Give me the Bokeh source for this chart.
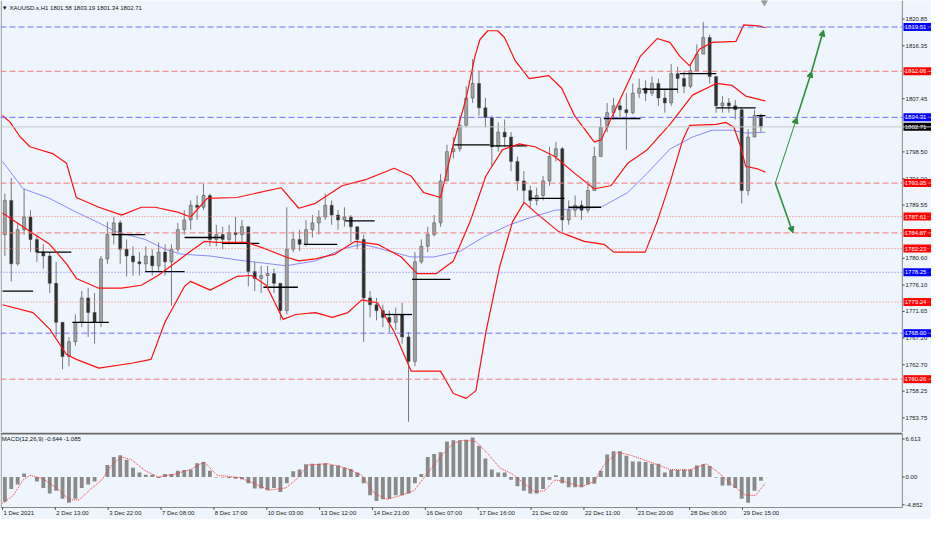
from bokeh.plotting import figure
from bokeh.models import Span, Arrow, NormalHead, Range1d, ColumnDataSource
from bokeh.layouts import column
from bokeh.embed import file_html
from bokeh.resources import INLINE
from bokeh.core.properties import value

FONT = "Liberation Sans"
BG = "#eef5fc"

# ---------------- data (XAUUSD H1, 4-hour groups) ----------------
first_open = 1784.59
close = [1790.34, 1779.67, 1785.41, 1787.55, 1783.77, 1781.64, 1780.98, 1776.39, 1769.83, 1764.08,
         1766.55, 1769.83, 1773.93, 1771.47, 1769.83, 1780.49, 1784.59, 1786.56, 1782.13, 1780.98,
         1780.00, 1779.67, 1780.98, 1779.34, 1781.64, 1780.00, 1782.13, 1785.41, 1787.05, 1789.52,
         1789.19, 1791.16, 1783.77, 1784.59, 1783.77, 1784.92, 1784.59, 1785.91, 1778.36, 1777.21,
         1777.70, 1778.03, 1776.39, 1771.80, 1782.13, 1783.77, 1782.95, 1785.41, 1786.56, 1787.55,
         1789.52, 1787.87, 1787.05, 1787.55, 1785.91, 1783.77, 1773.93, 1772.78, 1771.80, 1770.65,
         1769.83, 1771.14, 1767.37, 1763.26, 1780.00, 1782.62, 1784.59, 1786.56, 1793.62, 1798.54,
         1799.03, 1802.97, 1807.56, 1810.02, 1805.92, 1804.28, 1799.36, 1801.82, 1801.00, 1796.90,
         1793.62, 1791.99, 1790.34, 1791.16, 1793.62, 1797.72, 1799.03, 1787.05, 1788.69, 1789.52,
         1788.69, 1791.99, 1797.72, 1802.64, 1805.10, 1806.25, 1805.59, 1805.10, 1808.38, 1809.20,
         1808.38, 1810.02, 1807.56, 1806.74, 1811.66, 1810.84, 1809.53, 1812.16, 1814.95, 1817.74,
         1811.17, 1806.25, 1806.74, 1806.25, 1805.59, 1791.99, 1801.00, 1804.61, 1802.71]
high = [1791.48, 1794.11, 1786.56, 1792.30, 1788.69, 1784.59, 1782.95, 1781.64, 1780.00, 1769.83,
        1767.37, 1771.14, 1775.08, 1775.57, 1774.75, 1780.98, 1786.73, 1787.55, 1787.00, 1783.77,
        1782.62, 1781.64, 1782.62, 1782.13, 1783.28, 1782.95, 1782.95, 1786.56, 1788.69, 1790.34,
        1791.16, 1793.12, 1791.48, 1786.23, 1785.91, 1786.23, 1787.55, 1787.05, 1785.91, 1780.00,
        1779.34, 1779.34, 1778.85, 1776.39, 1789.19, 1785.09, 1785.41, 1787.05, 1787.87, 1788.69,
        1791.48, 1790.34, 1788.69, 1789.19, 1787.87, 1785.91, 1784.59, 1775.08, 1773.93, 1772.78,
        1771.80, 1772.29, 1773.11, 1768.19, 1781.64, 1783.77, 1785.91, 1787.87, 1794.77, 1799.69,
        1801.00, 1804.61, 1809.53, 1814.13, 1812.16, 1807.56, 1804.61, 1803.46, 1803.95, 1801.82,
        1797.72, 1795.26, 1792.80, 1792.47, 1794.44, 1799.36, 1800.18, 1799.36, 1790.34, 1791.16,
        1790.34, 1793.62, 1799.36, 1804.28, 1806.74, 1807.56, 1807.23, 1808.38, 1810.02, 1810.84,
        1810.52, 1811.17, 1810.84, 1808.88, 1813.31, 1812.81, 1812.16, 1813.31, 1816.59, 1820.36,
        1818.23, 1811.17, 1807.89, 1807.56, 1807.23, 1805.92, 1802.31, 1805.59, 1804.94]
low = [1780.98, 1776.72, 1779.34, 1784.59, 1781.64, 1780.00, 1778.85, 1774.75, 1767.37, 1761.95,
       1762.44, 1765.90, 1769.01, 1767.37, 1766.22, 1769.01, 1779.67, 1782.95, 1779.67, 1777.54,
       1777.70, 1777.70, 1778.36, 1777.70, 1778.36, 1777.70, 1772.62, 1781.64, 1784.59, 1785.41,
       1787.05, 1788.69, 1782.62, 1782.62, 1782.13, 1782.95, 1782.95, 1783.28, 1775.90, 1775.08,
       1774.75, 1775.90, 1774.75, 1770.16, 1771.14, 1781.64, 1781.80, 1782.62, 1784.10, 1784.59,
       1787.05, 1786.23, 1785.41, 1785.91, 1783.28, 1782.13, 1766.55, 1770.65, 1770.16, 1769.01,
       1768.19, 1768.51, 1766.22, 1753.09, 1762.44, 1779.67, 1781.64, 1784.27, 1785.91, 1793.62,
       1797.39, 1798.54, 1802.64, 1806.74, 1804.61, 1802.64, 1796.08, 1798.54, 1799.36, 1795.26,
       1791.99, 1790.01, 1789.19, 1789.52, 1790.34, 1792.80, 1796.90, 1785.09, 1786.23, 1787.55,
       1787.05, 1788.20, 1792.80, 1797.72, 1801.82, 1803.95, 1804.28, 1798.87, 1804.80, 1807.56,
       1807.07, 1807.89, 1806.25, 1805.10, 1806.25, 1808.38, 1808.38, 1809.20, 1812.16, 1815.44,
       1810.02, 1805.10, 1805.10, 1805.10, 1803.95, 1789.84, 1791.16, 1802.64, 1801.82]

# MACD histogram per candle group, and signal line
macd = [-4.3, -2.1, -1.3, 0.6, 0.0, -0.8, -1.9, -2.9, -2.4, -3.8,
        -4.5, -3.8, -1.9, -1.3, -0.8, 0.0, 2.1, 3.5, 3.8, 3.0,
        1.6, 0.8, 0.4, 0.4, -0.2, 0.5, 0.5, 1.1, 1.2, 1.3,
        2.4, 2.6, 1.1, -0.1, -0.1, -0.2, -0.3, -0.4, -1.1, -2.0,
        -2.0, -2.3, -1.9, -2.6, -1.1, 1.0, 1.3, 2.2, 2.3, 2.3,
        2.4, 2.1, 2.0, 1.6, 1.4, 0.8, -1.1, -3.2, -4.2, -3.9,
        -3.8, -3.2, -3.2, -2.9, -1.1, 0.5, 3.5, 4.0, 4.3, 6.2,
        6.4, 6.4, 6.5, 6.9, 5.4, 3.2, 1.3, 0.8, 0.8, -0.5,
        -1.6, -2.4, -2.9, -2.9, -2.1, -0.5, 0.3, -1.1, -1.8, -1.8,
        -1.8, -1.3, -1.2, 1.1, 3.9, 4.5, 4.5, 3.7, 2.7, 2.7,
        2.6, 2.3, 2.3, 0.8, 1.2, 1.2, 1.3, 1.3, 2.0, 2.2,
        1.9, -0.1, -1.5, -1.5, -1.9, -3.8, -4.5, -2.4, -0.65]
sig_x = [0, 6.8, 12.9, 17.2, 25.2, 33.8, 41.8, 47.9, 55.9, 62.1, 68.2, 74.4, 80.5, 89.1, 97.1,
         107.6, 117.4, 126.0, 134.0, 148.1, 158.6, 166.6, 177.0, 183.1, 191.1, 203.4, 213.9,
         224.3, 232.3, 240.3, 248.9, 256.9, 264.9, 273.5, 281.5, 287.6, 295.6, 304.2, 310.4,
         318.4, 326.4, 332.5, 338.6, 344.8, 350.9, 361.4, 369.4, 375.5, 384.1, 392.1, 404.4,
         416.7, 429.0, 439.4, 445.6, 455.4, 464.0, 470.2, 476.3]
sig_y = [-4.6, -3.2, -0.5, 0.3, -0.3, -1.9, -4.0, -4.0, -1.9, -0.5, 2.1, 3.5, 3.0, 1.1, 0.0,
         0.5, 1.3, 2.6, 0.3, -0.1, -1.3, -2.3, -1.9, -0.5, 2.1, 2.3, 1.6,
         0.3, -2.9, -3.9, -3.2, -2.4, 0.5, 3.5, 5.9, 6.4, 6.2, 3.7, 1.6,
         0.5, -1.3, -2.6, -2.4, -0.5, -0.8, -1.7, -0.8, 2.1, 4.3, 3.8, 2.6,
         1.3, 1.2, 2.3, 1.1, -1.3, -3.2, -3.2, -1.085]

# Bollinger bands and moving average (bar index, price)
bb_up_x = [0, 4.9, 11.1, 17.2, 31.3, 40.0, 46.1, 60.2, 74.4, 86.7, 95.3, 109.4, 117.4, 127.8, 146.3,
           173.9, 185.0, 195.4, 212.0, 226.2, 244.6, 255.1, 263.0, 273.5, 281.5, 289.5, 295.0,
           298.1, 303.0, 309.1, 313.4, 320.2, 328.8, 341.1, 349.1, 357.1, 369.4, 373.7, 386.0,
           398.3, 408.7, 416.7, 422.8, 429.0, 435.1, 443.1, 457.9, 462.8, 472.0, 476.3]
bb_up_y = [1804.61, 1803.46, 1801.00, 1799.36, 1798.21, 1796.57, 1790.83, 1789.19, 1787.87, 1789.19,
           1789.19, 1788.37, 1787.55, 1790.67, 1790.83, 1792.47, 1789.02, 1789.84, 1792.80, 1793.78,
           1795.75, 1794.44, 1791.65, 1790.83, 1799.85, 1807.56, 1814.62, 1817.41, 1818.88, 1818.88,
           1817.74, 1813.80, 1810.84, 1811.34, 1809.20, 1804.61, 1800.18, 1800.51, 1807.56, 1814.62,
           1817.57, 1816.92, 1814.62, 1812.98, 1815.77, 1816.92, 1817.08, 1819.87, 1819.70, 1819.38]
bb_mid_x = [0, 17.2, 29.5, 40.0, 46.1, 60.2, 74.4, 86.7, 97.1, 109.4, 117.4, 126.0, 134.0, 152.4,
            164.7, 177.0, 185.0, 195.4, 207.7, 220.0, 234.2, 249.0, 258.8, 271.0, 281.5, 291.9,
            301.8, 312.2, 322.7, 332.5, 344.8, 357.1, 369.4, 379.8, 390.3, 402.6, 416.7, 430.8,
            445.6, 455.4, 464.0, 476.3]
bb_mid_y = [1788.20, 1785.09, 1782.95, 1779.67, 1777.21, 1775.57, 1775.57, 1776.06, 1777.70, 1780.16,
            1781.80, 1783.44, 1783.28, 1783.28, 1782.13, 1780.82, 1780.16, 1780.49, 1781.31, 1783.44,
            1782.95, 1780.82, 1778.03, 1778.03, 1780.16, 1786.73, 1794.44, 1798.87, 1799.85, 1799.36,
            1797.72, 1794.93, 1792.30, 1792.80, 1796.57, 1798.87, 1803.13, 1808.05, 1810.02, 1809.70,
            1807.89, 1807.07]
bb_lo_x = [0, 19.1, 29.5, 40.0, 46.1, 60.2, 80.5, 92.8, 101.4, 113.7, 117.4, 129.7, 146.3, 155.5,
           164.7, 175.2, 183.1, 195.4, 205.9, 215.7, 224.3, 234.2, 244.6, 255.1, 273.5, 281.5,
           289.5, 295.6, 301.8, 310.4, 318.4, 325.7, 332.5, 347.2, 363.2, 375.5, 381.7, 401.3,
           408.7, 416.7, 424.7, 429.0, 445.6, 451.7, 456.6, 460.9, 464.0, 472.0, 476.3]
bb_lo_y = [1772.78, 1771.47, 1768.68, 1764.41, 1763.59, 1762.12, 1762.94, 1763.59, 1769.83, 1775.90,
           1776.72, 1775.24, 1777.54, 1777.70, 1776.06, 1770.32, 1771.14, 1771.47, 1770.65, 1771.47,
           1773.60, 1773.11, 1768.19, 1761.62, 1761.62, 1757.85, 1757.03, 1758.34, 1768.19, 1779.18,
           1786.73, 1790.01, 1788.37, 1785.09, 1783.44, 1782.95, 1781.64, 1781.64, 1786.73, 1793.29,
           1800.51, 1802.97, 1803.13, 1803.46, 1802.64, 1799.36, 1796.08, 1795.59, 1795.09]
ma_x = [0, 12.9, 29.5, 43.6, 60.2, 70.7, 89.1, 101.4, 111.2, 129.7, 146.3, 177.0, 195.4, 212.0,
        224.3, 232.3, 255.1, 269.2, 285.8, 299.9, 316.5, 328.8, 344.8, 361.4, 373.7, 390.3,
        402.6, 416.7, 430.8, 443.1, 455.4, 464.0, 476.3]
ma_y = [1796.90, 1792.30, 1790.67, 1788.69, 1786.56, 1785.09, 1783.77, 1782.13, 1781.31, 1780.98,
        1780.33, 1779.34, 1780.16, 1782.13, 1782.95, 1782.46, 1780.82, 1780.82, 1781.80, 1784.10,
        1786.23, 1787.38, 1788.69, 1789.02, 1789.19, 1791.65, 1794.93, 1798.98, 1801.00, 1802.15,
        1802.15, 1801.66, 1801.82]

# daily reference segments (black)
seg_x0 = [0, 21.5, 43.6, 68.2, 89.1, 113.7, 137.0, 162.9, 188.1, 213.9, 238.5, 255.7, 281.5,
          304.8, 328.8, 353.4, 375.5, 399.5, 422.8, 445.6, 470.8]
seg_x1 = [19.1, 43.0, 66.4, 89.1, 113.7, 137.0, 160.4, 184.4, 209.0, 232.3, 255.7, 279.6, 304.2,
          327.6, 350.9, 373.7, 398.3, 421.6, 445.6, 470.2, 476.3]
seg_p = [1775.08, 1781.64, 1769.83, 1784.59, 1778.36, 1784.10, 1783.12, 1775.73, 1782.95, 1786.89,
         1771.14, 1777.05, 1799.69, 1799.52, 1790.67, 1789.19, 1804.12, 1809.04, 1811.66, 1805.92,
         1804.61]

# horizontal levels
levels = [1819.51, 1812.06, 1804.31, 1793.25, 1787.61, 1784.87, 1782.23, 1778.25, 1773.24, 1768.00, 1760.26]
level_kind = ["blue", "red", "blue", "red", "red", "red", "red", "blue", "red", "blue", "red"]
level_style = ["dash", "dash", "dash", "dash", "dot", "dash", "dot", "dot", "dot", "dash", "dash"]
last_price = 1802.71

# projected path (green arrows)
arrow_up_x = [482.5, 496.0, 505.2, 512.6]
arrow_up_y = [1793.25, 1804.31, 1812.06, 1819.0]
arrow_dn_x = [482.5, 493.5]
arrow_dn_y = [1793.25, 1784.87]

price_ticks = [1820.85, 1816.35, 1807.45, 1798.50, 1794.00, 1789.55, 1780.60, 1776.10,
               1771.65, 1767.20, 1762.70, 1758.25, 1753.75]
macd_ticks = [6.613, 0.0, -4.852]
macd_tick_labels = ["6.613", "0.00", "-4.852"]
time_ticks = [0, 33, 66, 99, 132, 165, 198, 231, 264, 297, 330, 363, 396, 429, 462]
time_labels = ["1 Dec 2021", "2 Dec 13:00", "3 Dec 22:00", "7 Dec 08:00", "8 Dec 17:00",
               "10 Dec 03:00", "13 Dec 12:00", "14 Dec 21:00", "16 Dec 07:00", "17 Dec 16:00",
               "21 Dec 02:00", "22 Dec 11:00", "23 Dec 20:00", "28 Dec 06:00", "29 Dec 15:00"]

# ---------------- layout constants ----------------
X0, XEND = -1.23, 580.0      # bar-index range of the whole canvas width
AX = 561.8                   # bar index where the price scale starts
Y0, Y1 = 1751.29, 1823.97    # price range of the main panel
M0, M1 = -5.32, 7.58         # MACD panel value range
MB, MT = -7.41, 7.75         # MACD figure range (incl. time-label row)

FS = value("6px")
TXT = "#222222"
AXC = "#8a8a8a"

opens = [first_open] + close[:-1]
bar = [4 * k + 1.5 for k in range(len(close))]
src = ColumnDataSource(dict(
    x=bar, h=high, l=low,
    top=[max(o, c) for o, c in zip(opens, close)],
    bot=[min(o, c) for o, c in zip(opens, close)],
    fill=["#a2a2a2" if c >= o else "#2e2e2e" for o, c in zip(opens, close)],
))

COL = {"blue": "#7070f4", "red": "#f47a7a"}
TAG = {"blue": "#0000ff", "red": "#ff0000"}
DASH = {"dash": "6 3", "dot": "1 2"}

# ---------------- main price panel ----------------
p1 = figure(width=931, height=432, x_range=Range1d(X0, XEND), y_range=Range1d(Y0, Y1),
            output_backend="svg", toolbar_location=None,
            x_axis_location=None, y_axis_location=None, min_border=0,
            background_fill_color=BG, border_fill_color=BG, outline_line_color=None)
p1.grid.visible = False

for lv, kind, st in zip(levels, level_kind, level_style):
    p1.add_layout(Span(location=lv, dimension="width", line_color=COL[kind],
                       line_dash=DASH[st], line_width=1))
p1.add_layout(Span(location=last_price, dimension="width", line_color="#c4c8cc", line_width=1))

p1.line(ma_x, ma_y, line_color="#8a8aff", line_width=1)
p1.segment(x0="x", y0="h", x1="x", y1="l", source=src, line_color="#7a7a7a", line_width=1)
p1.vbar(x="x", top="top", bottom="bot", width=1.9, fill_color="fill",
        line_color="#4a4a4a", line_width=0.5, source=src)
p1.segment(x0=seg_x0, y0=seg_p, x1=seg_x1, y1=seg_p, line_color="#000000", line_width=1.3)
for xs, ys in ((bb_up_x, bb_up_y), (bb_mid_x, bb_mid_y), (bb_lo_x, bb_lo_y)):
    p1.line(xs, ys, line_color="#ff1010", line_width=1.2)

GREEN = "#2f8f3a"
for i in range(len(arrow_up_x) - 1):
    p1.add_layout(Arrow(end=NormalHead(size=6, fill_color=GREEN, line_color=GREEN),
                        x_start=arrow_up_x[i], y_start=arrow_up_y[i],
                        x_end=arrow_up_x[i + 1], y_end=arrow_up_y[i + 1],
                        line_color=GREEN, line_width=1.0 if i == 0 else 1.6))
p1.add_layout(Arrow(end=NormalHead(size=6, fill_color=GREEN, line_color=GREEN),
                    x_start=arrow_dn_x[0], y_start=arrow_dn_y[0],
                    x_end=arrow_dn_x[1], y_end=arrow_dn_y[1],
                    line_color=GREEN, line_width=1.6))

p1.scatter([475.7], [Y1 - 0.3], marker="inverted_triangle", size=6, color="#9a9a9a")
p1.text(x=[-0.4], y=[Y1 - 0.75], text=["▼ XAUUSD.s,H1  1801.58 1803.19 1801.34 1802.71"],
        text_font=value(FONT), text_font_size=FS, text_color="#111111",
        text_baseline="top", text_align="left")

# price scale (right)
p1.quad(left=AX, right=XEND, bottom=Y0, top=Y1, fill_color=BG, line_color=None)
p1.segment(x0=AX, y0=Y0, x1=AX, y1=Y1, line_color=AXC, line_width=1)
p1.segment(x0=X0 + 0.4, y0=Y0, x1=X0 + 0.4, y1=Y1, line_color=AXC, line_width=1)
p1.segment(x0=AX, y0=price_ticks, x1=AX + 1.4, y1=price_ticks, line_color="#444444")
p1.text(x=AX + 2.0, y=price_ticks, text=[f"{v:.2f}" for v in price_ticks],
        text_font=value(FONT), text_font_size=FS, text_color=TXT,
        text_baseline="middle", text_align="left")
tag_prices = levels + [last_price]
tag_fill = [TAG[k] for k in level_kind] + ["#000000"]
p1.rect(x=(AX + 0.7 + XEND) / 2, y=tag_prices, width=XEND - AX - 0.7, height=8,
        height_units="screen", fill_color=tag_fill, line_color=None)
p1.text(x=AX + 1.5, y=tag_prices, text=[f"{v:.2f}" for v in tag_prices],
        text_font=value(FONT), text_font_size=FS, text_color="white",
        text_baseline="middle", text_align="left")

# ---------------- MACD panel ----------------
p2 = figure(width=931, height=87, x_range=p1.x_range, y_range=Range1d(MB, MT),
            output_backend="svg", toolbar_location=None,
            x_axis_location=None, y_axis_location=None, min_border=0,
            background_fill_color=BG, border_fill_color=BG, outline_line_color=None)
p2.grid.visible = False

p2.vbar(x=bar, top=macd, bottom=0, width=2.4, fill_color="#8a8a8a", line_color=None)
p2.line(sig_x, sig_y, line_color="#ff3030", line_dash="1 1", line_width=1)
p2.text(x=[-0.4], y=[M1 - 0.5], text=["MACD(12,26,9) -0.644 -1.085"],
        text_font=value(FONT), text_font_size=FS, text_color="#111111",
        text_baseline="top", text_align="left")

# frame lines
p2.segment(x0=X0, y0=M1, x1=AX, y1=M1, line_color="#6a6a6a", line_width=2)
p2.segment(x0=X0, y0=M0, x1=AX, y1=M0, line_color=AXC, line_width=1.2)
p2.segment(x0=AX, y0=M0, x1=AX, y1=M1, line_color=AXC, line_width=1)
p2.segment(x0=X0 + 0.4, y0=M0, x1=X0 + 0.4, y1=M1, line_color=AXC, line_width=1)

# MACD scale
p2.segment(x0=AX, y0=macd_ticks, x1=AX + 1.4, y1=macd_ticks, line_color="#444444")
p2.text(x=AX + 2.0, y=macd_ticks, text=macd_tick_labels,
        text_font=value(FONT), text_font_size=FS, text_color=TXT,
        text_baseline="middle", text_align="left")

# time scale
p2.segment(x0=time_ticks, y0=M0, x1=time_ticks, y1=M0 - 0.4, line_color="#444444")
p2.text(x=[t + 0.6 for t in time_ticks], y=M0 - 0.45, text=time_labels,
        text_font=value(FONT), text_font_size=FS, text_color=TXT,
        text_baseline="top", text_align="left")

layout = column(p1, p2)
open("out.html", "w").write(file_html(layout, INLINE))
